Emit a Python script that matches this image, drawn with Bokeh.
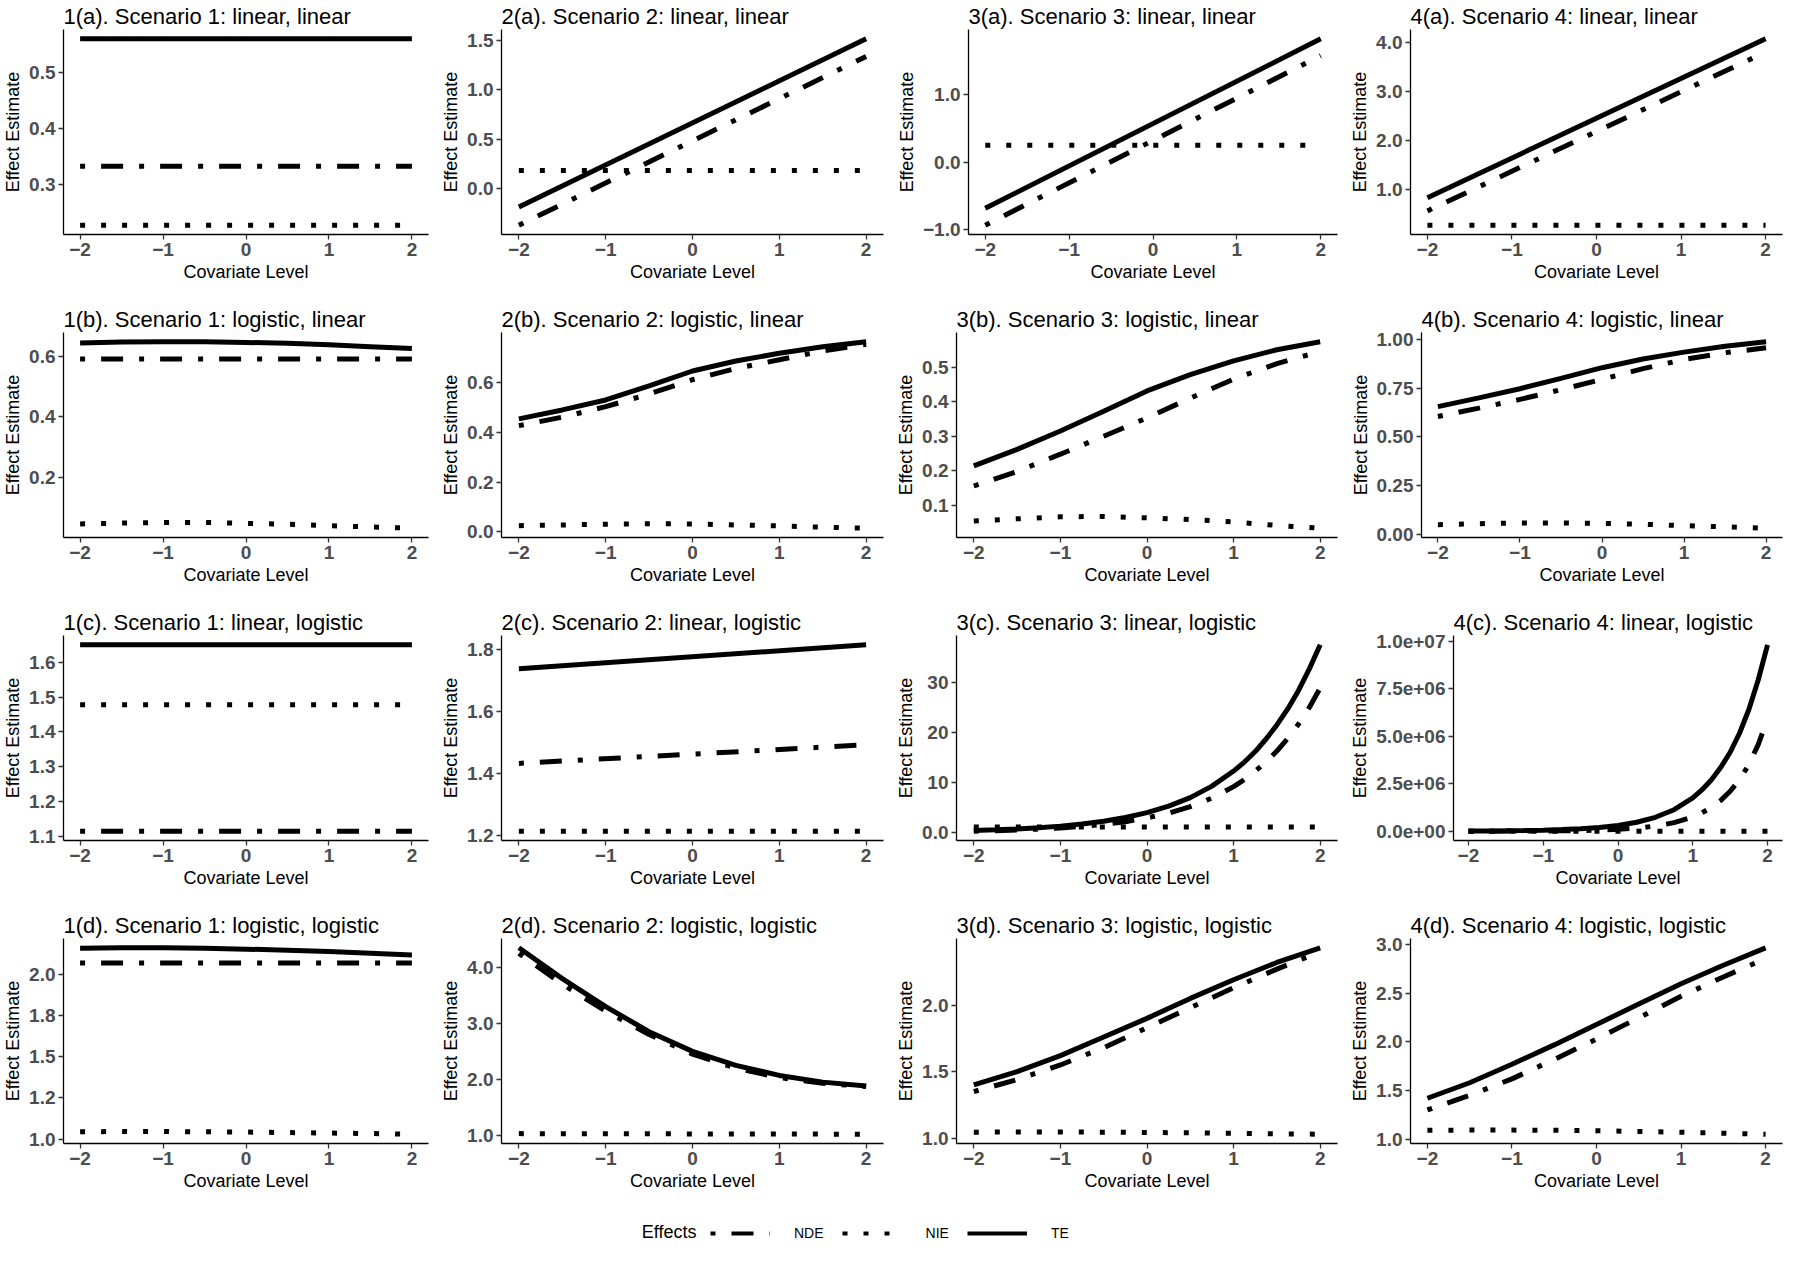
from bokeh.plotting import figure
from bokeh.layouts import column, row
from bokeh.models import Range1d, FixedTicker, Legend, LegendItem, Label
from bokeh.embed import file_html
from bokeh.resources import INLINE

# ---------------- data ----------------
X2 = [-2.0, 2.0]
X9 = [-2.0, -1.5, -1.0, -0.5, 0.0, 0.5, 1.0, 1.5, 2.0]
XE = [-2.0, -1.75, -1.5, -1.25, -1.0, -0.75, -0.5, -0.25, 0.0, 0.25, 0.5, 0.75,
      1.0, 1.125, 1.25, 1.375, 1.5, 1.625, 1.75, 1.875, 2.0]

X_TICKS = [-2, -1, 0, 1, 2]
X_TICK_LABELS = ["\u22122", "\u22121", "0", "1", "2"]

# Row (a): linear, linear
te_1a, nde_1a, nie_1a = [0.560, 0.560], [0.333, 0.333], [0.228, 0.228]
te_2a, nde_2a, nie_2a = [-0.19, 1.52], [-0.375, 1.34], [0.18, 0.18]
te_3a, nde_3a, nie_3a = [-0.68, 1.82], [-0.93, 1.57], [0.25, 0.25]
te_4a, nde_4a, nie_4a = [0.83, 4.07], [0.56, 3.80], [0.27, 0.27]

# Row (b): logistic, linear
te_1b = [0.644, 0.647, 0.648, 0.648, 0.646, 0.643, 0.638, 0.632, 0.626]
nde_1b = [0.591, 0.591]
nie_1b = [0.046, 0.049, 0.051, 0.051, 0.048, 0.045, 0.040, 0.036, 0.032]
te_2b = [0.453, 0.489, 0.529, 0.585, 0.645, 0.685, 0.716, 0.742, 0.762]
nde_2b = [0.426, 0.460, 0.502, 0.553, 0.610, 0.655, 0.690, 0.725, 0.752]
nie_2b = [0.025, 0.028, 0.031, 0.033, 0.032, 0.028, 0.024, 0.019, 0.015]
te_3b = [0.214, 0.262, 0.315, 0.372, 0.431, 0.478, 0.518, 0.550, 0.573]
nde_3b = [0.156, 0.198, 0.248, 0.300, 0.353, 0.410, 0.465, 0.510, 0.545]
nie_3b = [0.055, 0.061, 0.067, 0.068, 0.064, 0.059, 0.052, 0.042, 0.034]
te_4b = [0.655, 0.700, 0.747, 0.800, 0.855, 0.900, 0.935, 0.965, 0.988]
nde_4b = [0.604, 0.647, 0.692, 0.742, 0.795, 0.850, 0.897, 0.932, 0.957]
nie_4b = [0.048, 0.053, 0.057, 0.057, 0.055, 0.050, 0.043, 0.037, 0.030]

# Row (c): linear, logistic
te_1c, nde_1c, nie_1c = [1.651, 1.651], [1.114, 1.114], [1.478, 1.478]
te_2c, nde_2c, nie_2c = [1.739, 1.816], [1.433, 1.493], [1.214, 1.214]
te_3c = [0.43, 0.57, 0.75, 0.99, 1.31, 1.73, 2.29, 3.03, 4.0, 5.3, 7.0, 9.3,
         12.3, 14.1, 16.2, 18.7, 21.5, 24.7, 28.4, 32.7, 37.5]
nde_3c = [0.30, 0.40, 0.53, 0.71, 0.94, 1.25, 1.67, 2.2, 2.95, 3.9, 5.2, 6.9,
          9.2, 10.6, 12.3, 14.1, 16.3, 18.8, 21.7, 25.0, 28.9]
nie_3c = [1.15, 1.15]
te_4c = [9.0e3, 1.4e4, 2.2e4, 3.4e4, 5.3e4, 8.2e4, 1.26e5, 1.95e5, 3.0e5, 4.7e5, 7.3e5, 1.13e6,
         1.75e6, 2.18e6, 2.7e6, 3.36e6, 4.15e6, 5.15e6, 6.4e6, 7.95e6, 9.8e6]
nde_4c = [1.6e3, 2.7e3, 4.5e3, 7.5e3, 1.25e4, 2.1e4, 3.5e4, 5.8e4, 9.6e4, 1.6e5, 2.7e5, 4.5e5,
          7.5e5, 9.7e5, 1.25e6, 1.62e6, 2.1e6, 2.7e6, 3.5e6, 4.55e6, 5.9e6]
nie_4c = [1.5, 1.5]

# Row (d): logistic, logistic
te_1d = [2.160, 2.163, 2.163, 2.160, 2.155, 2.148, 2.140, 2.130, 2.120]
nde_1d = [2.07, 2.07]
nie_1d = [1.045, 1.046, 1.046, 1.045, 1.043, 1.040, 1.037, 1.034, 1.030]
te_2d = [4.35, 3.80, 3.30, 2.85, 2.50, 2.25, 2.07, 1.95, 1.88]
nde_2d = [4.25, 3.70, 3.22, 2.80, 2.45, 2.20, 2.03, 1.93, 1.87]
nie_2d = [1.03, 1.02]
te_3d = [1.40, 1.50, 1.62, 1.76, 1.90, 2.05, 2.19, 2.32, 2.43]
nde_3d = [1.35, 1.44, 1.55, 1.68, 1.83, 1.98, 2.13, 2.27, 2.40]
nie_3d = [1.045, 1.046, 1.046, 1.045, 1.043, 1.040, 1.037, 1.033, 1.030]
te_4d = [1.42, 1.58, 1.77, 1.97, 2.18, 2.39, 2.60, 2.79, 2.97]
nde_4d = [1.30, 1.45, 1.62, 1.82, 2.03, 2.25, 2.47, 2.67, 2.86]
nie_4d = [1.090, 1.092, 1.092, 1.090, 1.085, 1.078, 1.070, 1.060, 1.050]

# y ticks and labels per panel
yt_1a, yl_1a = [0.3, 0.4, 0.5], ["0.3", "0.4", "0.5"]
yt_2a, yl_2a = [0.0, 0.5, 1.0, 1.5], ["0.0", "0.5", "1.0", "1.5"]
yt_3a, yl_3a = [-1.0, 0.0, 1.0], ["\u22121.0", "0.0", "1.0"]
yt_4a, yl_4a = [1.0, 2.0, 3.0, 4.0], ["1.0", "2.0", "3.0", "4.0"]
yt_1b, yl_1b = [0.2, 0.4, 0.6], ["0.2", "0.4", "0.6"]
yt_2b, yl_2b = [0.0, 0.2, 0.4, 0.6], ["0.0", "0.2", "0.4", "0.6"]
yt_3b, yl_3b = [0.1, 0.2, 0.3, 0.4, 0.5, 0.6], ["0.1", "0.2", "0.3", "0.4", "0.5", "0.6"]
yt_4b, yl_4b = [0.0, 0.25, 0.5, 0.75, 1.0], ["0.00", "0.25", "0.50", "0.75", "1.00"]
yt_1c, yl_1c = [1.1, 1.2, 1.3, 1.4, 1.5, 1.6], ["1.1", "1.2", "1.3", "1.4", "1.5", "1.6"]
yt_2c, yl_2c = [1.2, 1.4, 1.6, 1.8], ["1.2", "1.4", "1.6", "1.8"]
yt_3c, yl_3c = [0.0, 10.0, 20.0, 30.0], ["0.0", "10", "20", "30"]
yt_4c, yl_4c = [0.0, 2.5e6, 5.0e6, 7.5e6, 1.0e7], ["0.0e+00", "2.5e+06", "5.0e+06", "7.5e+06", "1.0e+07"]
yt_1d, yl_1d = [1.0, 1.25, 1.5, 1.75, 2.0], ["1.0", "1.2", "1.5", "1.8", "2.0"]
yt_2d, yl_2d = [1.0, 2.0, 3.0, 4.0], ["1.0", "2.0", "3.0", "4.0"]
yt_3d, yl_3d = [1.0, 1.5, 2.0], ["1.0", "1.5", "2.0"]
yt_4d, yl_4d = [1.0, 1.5, 2.0, 2.5, 3.0], ["1.0", "1.5", "2.0", "2.5", "3.0"]

ROW_NAMES = ["linear, linear", "logistic, linear", "linear, logistic", "logistic, logistic"]
ROW_TAGS = ["a", "b", "c", "d"]
LEGEND_TITLE = "Effects"
LEGEND_LABELS = ["NDE", "NIE", "TE"]

PANELS = [
    [((X2, te_1a), (X2, nde_1a), (X2, nie_1a), yt_1a, yl_1a),
     ((X2, te_2a), (X2, nde_2a), (X2, nie_2a), yt_2a, yl_2a),
     ((X2, te_3a), (X2, nde_3a), (X2, nie_3a), yt_3a, yl_3a),
     ((X2, te_4a), (X2, nde_4a), (X2, nie_4a), yt_4a, yl_4a)],
    [((X9, te_1b), (X2, nde_1b), (X9, nie_1b), yt_1b, yl_1b),
     ((X9, te_2b), (X9, nde_2b), (X9, nie_2b), yt_2b, yl_2b),
     ((X9, te_3b), (X9, nde_3b), (X9, nie_3b), yt_3b, yl_3b),
     ((X9, te_4b), (X9, nde_4b), (X9, nie_4b), yt_4b, yl_4b)],
    [((X2, te_1c), (X2, nde_1c), (X2, nie_1c), yt_1c, yl_1c),
     ((X2, te_2c), (X2, nde_2c), (X2, nie_2c), yt_2c, yl_2c),
     ((XE, te_3c), (XE, nde_3c), (X2, nie_3c), yt_3c, yl_3c),
     ((XE, te_4c), (XE, nde_4c), (X2, nie_4c), yt_4c, yl_4c)],
    [((X9, te_1d), (X2, nde_1d), (X9, nie_1d), yt_1d, yl_1d),
     ((X9, te_2d), (X9, nde_2d), (X2, nie_2d), yt_2d, yl_2d),
     ((X9, te_3d), (X9, nde_3d), (X9, nie_3d), yt_3d, yl_3d),
     ((X9, te_4d), (X9, nde_4d), (X9, nie_4d), yt_4d, yl_4d)],
]

# ---------------- style ----------------
FONT = "Liberation Sans"
LW = 5
NDE_DASH = "5 16 22 16"
NIE_DASH = "5 16"
COL_WIDTHS = [438, 455, 454, 437]
COL_RIGHT = [10, 10, 10, 2]
ROW_H = 303


def make_panel(r, c, te, nde, nie, yticks, ylabels):
    ys = list(te[1]) + list(nde[1]) + list(nie[1])
    lo, hi = min(ys), max(ys)
    pad = 0.05 * (hi - lo)
    p = figure(width=COL_WIDTHS[c], height=ROW_H, output_backend="svg",
               toolbar_location=None,
               x_range=Range1d(-2.2, 2.2), y_range=Range1d(lo - pad, hi + pad),
               min_border_left=2, min_border_right=COL_RIGHT[c],
               min_border_top=29, min_border_bottom=69)
    p.outline_line_color = None
    p.xgrid.visible = False
    p.ygrid.visible = False
    p.background_fill_color = "white"
    p.border_fill_color = "white"

    p.title.text = "%d(%s). Scenario %d: %s" % (c + 1, ROW_TAGS[r], c + 1, ROW_NAMES[r])
    p.title.align = "left"
    p.title.text_font = FONT
    p.title.text_font_size = "22px"
    p.title.text_font_style = "normal"
    p.title.text_color = "black"
    p.title.standoff = 2

    p.xaxis.ticker = FixedTicker(ticks=X_TICKS)
    p.xaxis.major_label_overrides = {t: l for t, l in zip(X_TICKS, X_TICK_LABELS)}
    p.yaxis.ticker = FixedTicker(ticks=yticks)
    p.yaxis.major_label_overrides = {t: l for t, l in zip(yticks, ylabels)}
    p.xaxis.axis_label = "Covariate Level"
    p.yaxis.axis_label = "Effect Estimate"
    for ax in (p.xaxis, p.yaxis):
        ax.axis_line_color = "black"
        ax.axis_line_width = 1.3
        ax.major_tick_line_color = "#333333"
        ax.major_tick_line_width = 1.3
        ax.major_tick_out = 5
        ax.major_tick_in = 0
        ax.minor_tick_line_color = None
        ax.major_label_text_font = FONT
        ax.major_label_text_font_size = "19px"
        ax.major_label_text_font_style = "bold"
        ax.major_label_text_color = "#4D4D4D"
        ax.major_label_standoff = 3
        ax.axis_label_text_font = FONT
        ax.axis_label_text_font_size = "18px"
        ax.axis_label_text_font_style = "normal"
        ax.axis_label_text_color = "black"
        ax.axis_label_standoff = 3

    p.line(te[0], te[1], line_width=LW, line_color="black")
    p.line(nde[0], nde[1], line_width=LW, line_color="black", line_dash=NDE_DASH)
    p.line(nie[0], nie[1], line_width=LW, line_color="black", line_dash=NIE_DASH)
    return p


rows = []
for r, prow in enumerate(PANELS):
    figs = [make_panel(r, c, *spec) for c, spec in enumerate(prow)]
    rows.append(row(*figs))

# legend strip (its key renderers hold data that lie outside the strip's visible range)
leg = figure(width=1792, height=34, output_backend="svg", toolbar_location=None,
             x_range=Range1d(10, 11), y_range=Range1d(10, 11), min_border=0)
leg.outline_line_color = None
leg.axis.visible = False
leg.grid.visible = False
r_nde = leg.line(X2, nde_1a, line_width=4, line_color="black", line_dash=NDE_DASH)
r_nie = leg.line(X2, nie_1a, line_width=4, line_color="black", line_dash=NIE_DASH)
r_te = leg.line(X2, te_1a, line_width=4, line_color="black")
legend = Legend(items=[LegendItem(label=LEGEND_LABELS[0], renderers=[r_nde]),
                       LegendItem(label=LEGEND_LABELS[1], renderers=[r_nie]),
                       LegendItem(label=LEGEND_LABELS[2], renderers=[r_te])],
                orientation="horizontal", location=(710, 2),
                border_line_color=None, background_fill_alpha=0,
                glyph_width=60, glyph_height=22, label_standoff=24, spacing=18,
                padding=2, margin=0,
                label_text_font=FONT, label_text_font_size="14px",
                label_text_color="black")
leg.add_layout(legend, "center")
leg.add_layout(Label(x=696, y=15, x_units="screen", y_units="screen", text=LEGEND_TITLE,
                     text_align="right", text_baseline="middle", text_font=FONT,
                     text_font_size="18px", text_color="black"))

layout = column(*rows, leg)
open("out.html", "w").write(file_html(layout, INLINE))
